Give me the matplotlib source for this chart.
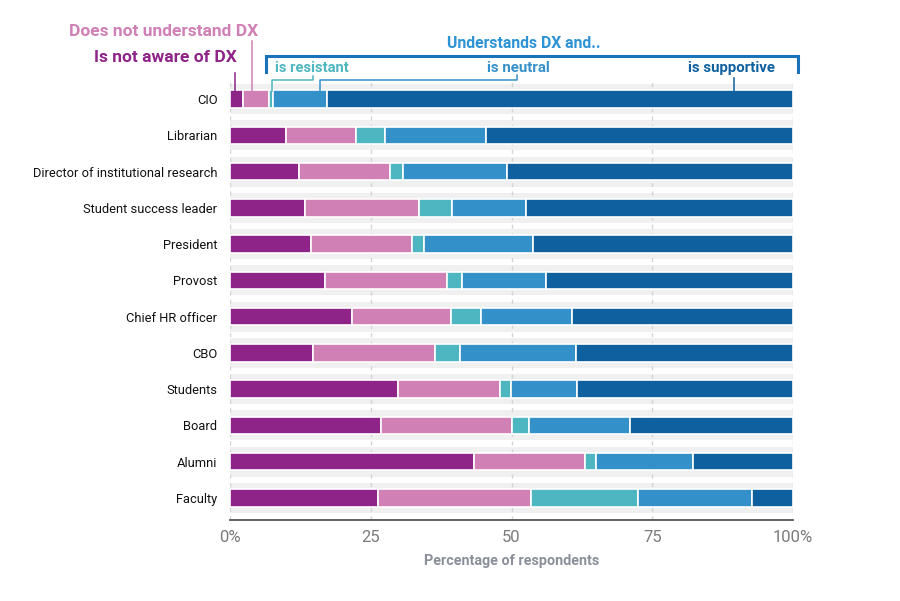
import matplotlib
matplotlib.use('Agg')
import matplotlib.pyplot as plt
import matplotlib.transforms as mtransforms
import numpy as np

plt.rcParams['font.family'] = ['Roboto', 'DejaVu Sans']

categories = ['CIO', 'Librarian', 'Director of institutional research',
              'Student success leader', 'President', 'Provost',
              'Chief HR officer', 'CBO', 'Students', 'Board', 'Alumni', 'Faculty']
not_aware = [2.3, 9.9, 12.3, 13.3, 14.4, 16.8, 21.6, 14.7, 29.8, 26.9, 43.3, 26.2]
not_understand = [4.6, 12.4, 16.1, 20.3, 18.0, 21.7, 17.6, 21.8, 18.1, 23.1, 19.8, 27.2]
resistant = [0.7, 5.3, 2.3, 5.9, 2.1, 2.7, 5.4, 4.4, 2.0, 3.1, 1.9, 19.1]
neutral = [9.6, 17.9, 18.5, 13.0, 19.3, 14.9, 16.1, 20.5, 11.7, 17.9, 17.2, 20.2]
supportive = [82.8, 54.5, 50.8, 47.5, 46.2, 43.9, 39.3, 38.6, 38.4, 29.0, 17.8, 7.3]

series = [not_aware, not_understand, resistant, neutral, supportive]
colors = ['#8e2488', '#d080b5', '#4db6c0', '#3490c8', '#0e609e']
xticks = [0, 25, 50, 75, 100]
xtick_labels = ['0%', '25', '50', '75', '100%']

W, H = 900, 601
fig = plt.figure(figsize=(W / 100, H / 100), dpi=100)
ax = fig.add_axes([230 / W, 1 - 520 / H, 563 / W, 439 / H])

y = np.arange(len(categories))

# grey row bands
ax.barh(y, [100] * len(y), height=0.83, color='#f0f0f0', zorder=0)
for xt in xticks:
    ax.axvline(xt, color='#d4d4d4', lw=1, ls=(0, (3, 3)), zorder=0.5)

left = np.zeros(len(y))
for vals, c in zip(series, colors):
    ax.barh(y, vals, left=left, height=0.48, color=c, edgecolor='white',
            linewidth=1.2, zorder=2)
    left += np.array(vals)

ax.set_xlim(0, 100)
ax.set_ylim(11.61, -0.5)
ax.set_yticks(y)
ax.set_yticklabels(categories, fontsize=9.3, color='#111111')
ax.set_xticks(xticks)
ax.set_xticklabels(xtick_labels, fontsize=12, color='#7a7a7a')
ax.tick_params(axis='y', length=0, pad=9)
ax.tick_params(axis='x', length=0, pad=7)
ax.set_xlabel('Percentage of respondents', fontsize=10.4, fontweight='bold',
              color='#8a8f99', labelpad=7)
for s in ['top', 'right', 'left']:
    ax.spines[s].set_visible(False)
ax.spines['bottom'].set_color('#555555')
ax.spines['bottom'].set_linewidth(1.3)

# annotation layer: x in data units, y in figure pixels from the top
tr = mtransforms.blended_transform_factory(ax.transData, fig.transFigure)
def fy(px):
    return 1 - px / H

def px2x(px):
    return (px - 230) / 5.63

lw = 1.1
# Is not aware of DX
ax.text(px2x(237), fy(58), 'Is not aware of DX', transform=tr, ha='right',
        va='center', fontsize=12.5, fontweight='bold', color=colors[0])
ax.plot([px2x(235)] * 2, [fy(73), fy(91)], transform=tr, color=colors[0],
        lw=lw, clip_on=False)
# Does not understand DX
ax.text(px2x(258), fy(31), 'Does not understand DX', transform=tr, ha='right',
        va='center', fontsize=12.5, fontweight='bold', color=colors[1])
ax.plot([px2x(252)] * 2, [fy(41), fy(91)], transform=tr, color=colors[1],
        lw=lw, clip_on=False)
# bracket for "Understands DX and.."
ax.plot([px2x(266), px2x(266), px2x(798), px2x(798)],
        [fy(72), fy(56), fy(56), fy(72)], transform=tr, color='#1a72b8',
        lw=2.2, clip_on=False, solid_joinstyle='miter')
ax.text(px2x(524), fy(43), 'Understands DX and..', transform=tr, ha='center',
        va='center', fontsize=11.3, fontweight='bold', color='#2e93d4')
# is resistant
ax.text(px2x(275), fy(68), 'is resistant', transform=tr, ha='left',
        va='center', fontsize=10.6, fontweight='bold', color=colors[2])
ax.plot([px2x(313), px2x(313), px2x(272), px2x(272)],
        [fy(76), fy(80), fy(80), fy(91)], transform=tr, color=colors[2],
        lw=lw, clip_on=False)
# is neutral
ax.text(px2x(518), fy(68), 'is neutral', transform=tr, ha='center',
        va='center', fontsize=10.8, fontweight='bold', color=colors[3])
ax.plot([px2x(517), px2x(517), px2x(320), px2x(320)],
        [fy(75), fy(80), fy(80), fy(91)], transform=tr, color=colors[3],
        lw=lw, clip_on=False)
# is supportive
ax.text(px2x(732), fy(68), 'is supportive', transform=tr, ha='center',
        va='center', fontsize=10.8, fontweight='bold', color=colors[4])
ax.plot([px2x(734)] * 2, [fy(78), fy(91)], transform=tr, color=colors[4],
        lw=lw, clip_on=False)

fig.savefig('out.png', dpi=100)
